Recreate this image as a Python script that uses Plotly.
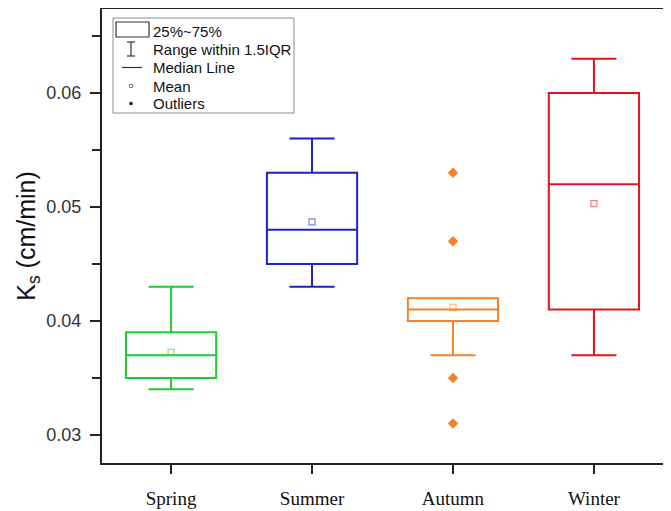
import plotly.graph_objects as go

seasons = ["Spring", "Summer", "Autumn", "Winter"]
q1 = [0.035, 0.045, 0.040, 0.041]
median = [0.037, 0.048, 0.041, 0.052]
q3 = [0.039, 0.053, 0.042, 0.060]
lower = [0.034, 0.043, 0.037, 0.037]
upper = [0.043, 0.056, 0.042, 0.063]
means = [0.03725, 0.0487, 0.0412, 0.0503]
outlier_season = ["Autumn", "Autumn", "Autumn", "Autumn"]
outlier_values = [0.053, 0.047, 0.035, 0.031]

colors = ["#1ECB32", "#1E22C8", "#F5822A", "#E5141C"]
mean_colors = ["rgba(30,203,50,0.55)", "rgba(30,34,200,0.55)",
               "rgba(245,130,42,0.55)", "rgba(229,20,28,0.55)"]

OFF = 8  # page body margin
W, H = 671 - OFF, 511 - OFF
# plot area in page pixels
L, R, T, B = 102, 663, 9, 463

fig = go.Figure()
for i, s in enumerate(seasons):
    fig.add_trace(go.Box(
        x=[s], q1=[q1[i]], median=[median[i]], q3=[q3[i]],
        lowerfence=[lower[i]], upperfence=[upper[i]],
        line=dict(color=colors[i], width=2),
        fillcolor="rgba(0,0,0,0)", whiskerwidth=0.5, width=0.64,
        boxpoints=False, showlegend=False, hoverinfo="skip"))
    fig.add_trace(go.Scatter(
        x=[s], y=[means[i]], mode="markers",
        marker=dict(symbol="square-open", size=6,
                    color=mean_colors[i], line=dict(width=1.2, color=mean_colors[i])),
        showlegend=False, hoverinfo="skip"))

fig.add_trace(go.Scatter(
    x=outlier_season, y=outlier_values, mode="markers",
    marker=dict(symbol="diamond", size=8, color=colors[2]),
    showlegend=False, hoverinfo="skip"))

def px(x):
    return (x - L) / (R - L)

def py(y):
    return (B - y) / (B - T)

shapes = []
annotations = []
# legend frame
shapes.append(dict(type="rect", xref="paper", yref="paper",
                   x0=px(113), x1=px(294), y0=py(113), y1=py(18),
                   line=dict(color="#8c8c8c", width=1), fillcolor="white", layer="above"))
# box icon
shapes.append(dict(type="rect", xref="paper", yref="paper",
                   x0=px(116), x1=px(149), y0=py(37), y1=py(22),
                   line=dict(color="#333333", width=1.2), layer="above"))
# whisker icon
for seg in [(131, 42, 131, 56), (127, 42, 135, 42), (127, 56, 135, 56)]:
    shapes.append(dict(type="line", xref="paper", yref="paper",
                       x0=px(seg[0]), y0=py(seg[1]), x1=px(seg[2]), y1=py(seg[3]),
                       line=dict(color="#333333", width=1.2), layer="above"))
# median line icon
shapes.append(dict(type="line", xref="paper", yref="paper",
                   x0=px(122), y0=py(67.5), x1=px(142), y1=py(67.5),
                   line=dict(color="#333333", width=1.2), layer="above"))
# mean icon
shapes.append(dict(type="rect", xref="paper", yref="paper",
                   x0=px(129.5), x1=px(132.5), y0=py(87.5), y1=py(84.5),
                   line=dict(color="#555555", width=0.8), layer="above"))
# outlier icon
shapes.append(dict(type="circle", xref="paper", yref="paper",
                   x0=px(129.5), x1=px(132.5), y0=py(105), y1=py(102),
                   line=dict(color="#111111", width=0.5), fillcolor="#111111", layer="above"))

labels = ["25%~75%", "Range within 1.5IQR", "Median Line", "Mean", "Outliers"]
rows = [31, 49.5, 67.5, 86, 104]
for lab, r in zip(labels, rows):
    annotations.append(dict(text=lab, xref="paper", yref="paper",
                            x=px(151), y=py(r), xanchor="left", yanchor="middle",
                            showarrow=False,
                            font=dict(family="Arial, Liberation Sans", size=15, color="#111111")))

fig.update_layout(
    width=W, height=H,
    margin=dict(l=L - OFF, r=W - (R - OFF), t=T - OFF, b=H - (B - OFF), autoexpand=False),
    paper_bgcolor="white", plot_bgcolor="white",
    shapes=shapes, annotations=annotations,
    showlegend=False,
)
fig.update_xaxes(
    type="category", categoryorder="array", categoryarray=seasons,
    range=[-0.49, 3.49], automargin=False,
    showline=True, mirror=True, linecolor="#222222", linewidth=2,
    ticks="outside", ticklen=9, tickwidth=1.5, tickcolor="#222222",
    ticklabelstandoff=8,
    showgrid=False, zeroline=False,
    tickfont=dict(family="Times New Roman, Liberation Serif", size=19, color="#111111"),
)
fig.update_yaxes(
    range=[0.02754, 0.06737], dtick=0.01, tick0=0.03, tickformat=".2f",
    automargin=False,
    showline=True, mirror=True, linecolor="#222222", linewidth=2,
    ticks="outside", ticklen=10, tickwidth=1.5, tickcolor="#222222",
    ticklabelstandoff=5,
    minor=dict(ticks="outside", ticklen=8, tickwidth=1.5, tickcolor="#222222", dtick=0.005, showgrid=False),
    showgrid=False, zeroline=False,
    tickfont=dict(family="Arial, Liberation Sans", size=18, color="#333333"),
    title=dict(text="K<sub>s</sub> (cm/min)", standoff=4,
               font=dict(family="Arial, Liberation Sans", size=25, color="#111111")),
)

fig.write_html("out.html")
